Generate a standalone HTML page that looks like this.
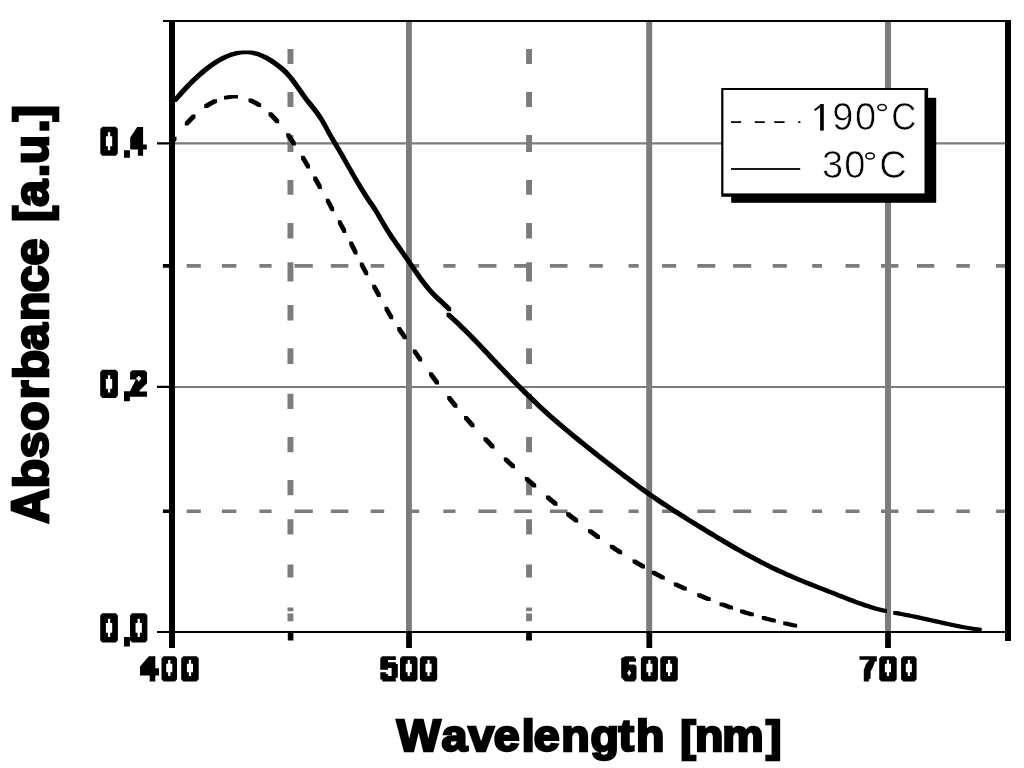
<!DOCTYPE html>
<html><head><meta charset="utf-8">
<style>
html,body{margin:0;padding:0;background:#fff;}
body{width:1024px;height:768px;overflow:hidden;position:relative;}
svg{position:absolute;left:0;top:0;}
text{font-family:"Liberation Sans",sans-serif;}
svg{will-change:transform;}
</style></head><body>
<svg width="1024" height="768" viewBox="0 0 1024 768">
<rect width="1024" height="768" fill="#fff"/>
<path fill="#7c7c7c" d="M175,142.3h830v2.3h-830zM175,385.9h830v2h-830z"/>
<path fill="#7c7c7c" d="M186.7,264.1h14.1v3.7h-14.1zM221.9,264.1h14.5v3.7h-14.5zM259.4,264.1h12.2v3.7h-12.2zM294.5,264.1h18.3v3.7h-18.3zM330.8,264.1h17.6v3.7h-17.6zM370.7,264.1h13.5v3.7h-13.5zM406.0,264.1h13.2v3.7h-13.2zM443.3,264.1h12.2v3.7h-12.2zM478.4,264.1h18.1v3.7h-18.1zM514.2,264.1h17.7v3.7h-17.7zM549.9,264.1h17.6v3.7h-17.6zM589.3,264.1h13.5v3.7h-13.5zM628.6,264.1h10.1v3.7h-10.1zM662.1,264.1h14.1v3.7h-14.1zM697.3,264.1h18.0v3.7h-18.0zM733.1,264.1h18.1v3.7h-18.1zM772.7,264.1h14.1v3.7h-14.1zM812.2,264.1h9.9v3.7h-9.9zM845.5,264.1h14.0v3.7h-14.0zM881.0,264.1h17.4v3.7h-17.4zM916.9,264.1h17.4v3.7h-17.4zM956.3,264.1h13.5v3.7h-13.5zM995.9,264.1h9.1v3.7h-9.1zM186.7,509.4h14.1v3.6h-14.1zM221.9,509.4h14.5v3.6h-14.5zM259.4,509.4h12.2v3.6h-12.2zM294.5,509.4h18.3v3.6h-18.3zM330.8,509.4h17.6v3.6h-17.6zM370.7,509.4h13.5v3.6h-13.5zM406.0,509.4h13.2v3.6h-13.2zM443.3,509.4h12.2v3.6h-12.2zM478.4,509.4h18.1v3.6h-18.1zM514.2,509.4h17.7v3.6h-17.7zM549.9,509.4h17.6v3.6h-17.6zM589.3,509.4h13.5v3.6h-13.5zM628.6,509.4h10.1v3.6h-10.1zM662.1,509.4h14.1v3.6h-14.1zM697.3,509.4h18.0v3.6h-18.0zM733.1,509.4h18.1v3.6h-18.1zM772.7,509.4h14.1v3.6h-14.1zM812.2,509.4h9.9v3.6h-9.9zM845.5,509.4h14.0v3.6h-14.0zM881.0,509.4h17.4v3.6h-17.4zM916.9,509.4h17.4v3.6h-17.4zM956.3,509.4h13.5v3.6h-13.5zM995.9,509.4h9.1v3.6h-9.1z"/>
<path fill="#7c7c7c" d="M287.5,48.9h5.9v15.2h-5.9zM287.5,91.9h5.9v15.1h-5.9zM287.5,135.0h5.9v16.9h-5.9zM287.5,180.1h5.9v14.6h-5.9zM287.5,223.0h5.9v15.5h-5.9zM287.5,262.3h5.9v19.1h-5.9zM287.5,305.1h5.9v15.5h-5.9zM287.5,348.3h5.9v15.7h-5.9zM287.5,393.8h5.9v15.1h-5.9zM287.5,437.0h5.9v15.2h-5.9zM287.5,480.0h5.9v15.3h-5.9zM287.5,519.3h5.9v15.1h-5.9zM287.5,564.4h5.9v13.2h-5.9zM287.5,607.5h5.9v3.8h-5.9zM287.5,613.4h5.9v7.9h-5.9zM526.1,48.9h5.9v15.2h-5.9zM526.1,91.9h5.9v15.1h-5.9zM526.1,135.0h5.9v16.9h-5.9zM526.1,180.1h5.9v14.6h-5.9zM526.1,223.0h5.9v15.5h-5.9zM526.1,262.3h5.9v19.1h-5.9zM526.1,305.1h5.9v15.5h-5.9zM526.1,348.3h5.9v15.7h-5.9zM526.1,393.8h5.9v15.1h-5.9zM526.1,437.0h5.9v15.2h-5.9zM526.1,480.0h5.9v15.3h-5.9zM526.1,519.3h5.9v15.1h-5.9zM526.1,564.4h5.9v13.2h-5.9zM526.1,607.5h5.9v3.8h-5.9zM526.1,613.4h5.9v7.9h-5.9z"/>
<path fill="#7c7c7c" d="M406,22h5.9v609h-5.9zM646.2,22h6v609h-6zM885,22h6v609h-6z"/>
<path fill="#000" d="M173.2,98.3L176.2,94.9L179.8,94.9L179.8,98.5L176.8,101.9L173.2,101.9ZM176.2,94.9L179.2,91.5L182.8,91.5L182.8,95.2L179.8,98.5L176.2,98.5ZM179.2,91.5L182.2,88.3L185.8,88.3L185.8,91.9L182.8,95.2L179.2,95.2ZM182.2,88.3L185.2,85.1L188.8,85.1L188.8,88.7L185.8,91.9L182.2,91.9ZM185.2,85.1L188.2,82.0L191.8,82.0L191.8,85.6L188.8,88.7L185.2,88.7ZM188.2,82.0L191.2,79.0L194.8,79.0L194.8,82.6L191.8,85.6L188.2,85.6ZM191.2,79.0L194.2,76.2L197.8,76.2L197.8,79.8L194.8,82.6L191.2,82.6ZM194.2,76.2L197.2,73.4L200.8,73.4L200.8,77.0L197.8,79.8L194.2,79.8ZM197.2,73.4L200.2,70.8L203.8,70.8L203.8,74.4L200.8,77.0L197.2,77.0ZM200.2,70.8L203.2,68.3L206.8,68.3L206.8,71.9L203.8,74.4L200.2,74.4ZM203.2,68.3L206.2,65.9L209.8,65.9L209.8,69.5L206.8,71.9L203.2,71.9ZM206.2,65.9L209.2,63.7L212.8,63.7L212.8,67.3L209.8,69.5L206.2,69.5ZM209.2,63.7L212.2,61.6L215.8,61.6L215.8,65.2L212.8,67.3L209.2,67.3ZM212.2,61.6L215.2,59.7L218.8,59.7L218.8,63.3L215.8,65.2L212.2,65.2ZM215.2,59.7L218.2,57.9L221.8,57.9L221.8,61.5L218.8,63.3L215.2,63.3ZM218.2,57.9L221.2,56.3L224.8,56.3L224.8,59.9L221.8,61.5L218.2,61.5ZM221.2,56.3L224.2,54.9L227.8,54.9L227.8,58.5L224.8,59.9L221.2,59.9ZM224.2,54.9L227.2,53.7L230.8,53.7L230.8,57.3L227.8,58.5L224.2,58.5ZM227.2,53.7L230.2,52.6L233.8,52.6L233.8,56.2L230.8,57.3L227.2,57.3ZM230.2,52.6L233.2,51.8L236.8,51.8L236.8,55.4L233.8,56.2L230.2,56.2ZM233.2,51.8L236.2,51.1L239.8,51.1L239.8,54.7L236.8,55.4L233.2,55.4ZM236.2,51.1L239.2,50.7L242.8,50.7L242.8,54.3L239.8,54.7L236.2,54.7ZM239.2,50.7L242.2,50.4L245.8,50.4L245.8,54.0L242.8,54.3L239.2,54.3ZM242.2,50.4L245.2,50.4L248.8,50.4L248.8,54.0L245.8,54.0L242.2,54.0ZM245.2,50.4L248.8,50.4L251.8,50.6L251.8,54.2L248.2,54.2L245.2,54.0ZM248.2,50.6L251.8,50.6L254.8,51.1L254.8,54.7L251.2,54.7L248.2,54.2ZM251.2,51.1L254.8,51.1L257.8,51.8L257.8,55.4L254.2,55.4L251.2,54.7ZM254.2,51.8L257.8,51.8L260.8,52.7L260.8,56.3L257.2,56.3L254.2,55.4ZM257.2,52.7L260.8,52.7L263.8,53.9L263.8,57.5L260.2,57.5L257.2,56.3ZM260.2,53.9L263.8,53.9L266.8,55.3L266.8,58.9L263.2,58.9L260.2,57.5ZM263.2,55.3L266.8,55.3L269.8,56.9L269.8,60.5L266.2,60.5L263.2,58.9ZM266.2,56.9L269.8,56.9L272.8,58.8L272.8,62.4L269.2,62.4L266.2,60.5ZM269.2,58.8L272.8,58.8L275.8,60.8L275.8,64.4L272.2,64.4L269.2,62.4ZM272.2,60.8L275.8,60.8L278.8,63.0L278.8,66.6L275.2,66.6L272.2,64.4ZM275.2,63.0L278.8,63.0L281.8,65.3L281.8,68.9L278.2,68.9L275.2,66.6ZM278.2,65.3L281.8,65.3L284.8,67.8L284.8,71.4L281.2,71.4L278.2,68.9ZM281.2,67.8L284.8,67.8L287.8,70.6L287.8,74.2L284.2,74.2L281.2,71.4ZM284.2,70.6L287.8,70.6L290.8,73.9L290.8,77.5L287.2,77.5L284.2,74.2ZM287.2,73.9L290.8,73.9L293.8,77.6L293.8,81.2L290.2,81.2L287.2,77.5ZM290.2,77.6L293.8,77.6L296.8,81.6L296.8,85.2L293.2,85.2L290.2,81.2ZM293.2,81.6L296.8,81.6L299.8,85.8L299.8,89.5L296.2,89.5L293.2,85.2ZM296.2,85.8L299.8,85.8L302.8,90.1L302.8,93.7L299.2,93.7L296.2,89.5ZM299.2,90.1L302.8,90.1L305.8,94.3L305.8,98.0L302.2,98.0L299.2,93.7ZM302.2,94.3L305.8,94.3L308.8,98.4L308.8,102.0L305.2,102.0L302.2,98.0ZM305.2,98.4L308.8,98.4L311.8,102.1L311.8,105.7L308.2,105.7L305.2,102.0ZM308.2,102.1L311.8,102.1L314.8,105.8L314.8,109.4L311.2,109.4L308.2,105.7ZM311.2,105.8L314.8,105.8L317.8,109.6L317.8,113.2L314.2,113.2L311.2,109.4ZM314.2,109.6L317.8,109.6L320.8,113.8L320.8,117.4L317.2,117.4L314.2,113.2ZM317.2,113.8L320.8,113.8L323.8,118.5L323.8,122.0L320.2,122.0L317.2,117.4ZM320.2,118.5L323.8,118.5L326.8,123.8L326.8,127.3L323.2,127.3L320.2,122.0ZM323.2,123.8L326.8,123.8L329.8,129.3L329.8,132.9L326.2,132.9L323.2,127.3ZM326.2,129.3L329.8,129.3L332.8,134.7L332.8,138.3L329.2,138.3L326.2,132.9ZM329.2,134.7L332.8,134.7L335.8,139.8L335.8,143.4L332.2,143.4L329.2,138.3ZM332.2,139.8L335.8,139.8L338.8,144.8L338.8,148.4L335.2,148.4L332.2,143.4ZM335.2,144.8L338.8,144.8L341.8,149.9L341.8,153.5L338.2,153.5L335.2,148.4ZM338.2,149.9L341.8,149.9L344.8,155.1L344.8,158.7L341.2,158.7L338.2,153.5ZM341.2,155.1L344.8,155.1L347.8,160.4L347.8,164.0L344.2,164.0L341.2,158.7ZM344.2,160.4L347.8,160.4L350.8,165.7L350.8,169.3L347.2,169.3L344.2,164.0ZM347.2,165.7L350.8,165.7L353.8,171.0L353.8,174.6L350.2,174.6L347.2,169.3ZM350.2,171.0L353.8,171.0L356.8,176.2L356.8,179.8L353.2,179.8L350.2,174.6ZM353.2,176.2L356.8,176.2L359.8,181.3L359.8,184.9L356.2,184.9L353.2,179.8ZM356.2,181.3L359.8,181.3L362.8,186.3L362.8,189.9L359.2,189.9L356.2,184.9ZM359.2,186.3L362.8,186.3L365.8,191.1L365.8,194.7L362.2,194.7L359.2,189.9ZM362.2,191.1L365.8,191.1L368.8,195.8L368.8,199.4L365.2,199.4L362.2,194.7ZM365.2,195.8L368.8,195.8L371.8,200.3L371.8,203.9L368.2,203.9L365.2,199.4ZM368.2,200.3L371.8,200.3L374.8,204.6L374.8,208.2L371.2,208.2L368.2,203.9ZM371.2,204.6L374.8,204.6L377.8,209.2L377.8,212.8L374.2,212.8L371.2,208.2ZM374.2,209.2L377.8,209.2L380.8,214.3L380.8,217.9L377.2,217.9L374.2,212.8ZM377.2,214.3L380.8,214.3L383.8,219.5L383.8,223.1L380.2,223.1L377.2,217.9ZM380.2,219.5L383.8,219.5L386.8,224.6L386.8,228.2L383.2,228.2L380.2,223.1ZM383.2,224.6L386.8,224.6L389.8,229.5L389.8,233.1L386.2,233.1L383.2,228.2ZM386.2,229.5L389.8,229.5L392.8,234.1L392.8,237.7L389.2,237.7L386.2,233.1ZM389.2,234.1L392.8,234.1L395.8,238.5L395.8,242.1L392.2,242.1L389.2,237.7ZM392.2,238.5L395.8,238.5L398.8,242.8L398.8,246.4L395.2,246.4L392.2,242.1ZM395.2,242.8L398.8,242.8L401.8,247.1L401.8,250.7L398.2,250.7L395.2,246.4ZM398.2,247.1L401.8,247.1L404.8,251.4L404.8,255.0L401.2,255.0L398.2,250.7ZM401.2,251.4L404.8,251.4L407.8,255.7L407.8,259.3L404.2,259.3L401.2,255.0ZM404.2,255.7L407.8,255.7L410.8,260.1L410.8,263.6L407.2,263.6L404.2,259.3ZM407.2,260.1L410.8,260.1L413.8,264.4L413.8,268.1L410.2,268.1L407.2,263.6ZM410.2,264.4L413.8,264.4L416.8,268.8L416.8,272.4L413.2,272.4L410.2,268.1ZM413.2,268.8L416.8,268.8L419.8,273.1L419.8,276.7L416.2,276.7L413.2,272.4ZM416.2,273.1L419.8,273.1L422.8,277.3L422.8,280.9L419.2,280.9L416.2,276.7ZM419.2,277.3L422.8,277.3L425.8,281.3L425.8,284.9L422.2,284.9L419.2,280.9ZM422.2,281.3L425.8,281.3L428.8,285.1L428.8,288.7L425.2,288.7L422.2,284.9ZM425.2,285.1L428.8,285.1L431.8,288.7L431.8,292.3L428.2,292.3L425.2,288.7ZM428.2,288.7L431.8,288.7L434.8,292.0L434.8,295.6L431.2,295.6L428.2,292.3ZM431.2,292.0L434.8,292.0L437.8,295.0L437.8,298.6L434.2,298.6L431.2,295.6ZM434.2,295.0L437.8,295.0L440.8,297.8L440.8,301.4L437.2,301.4L434.2,298.6ZM437.2,297.8L440.8,297.8L443.8,300.5L443.8,304.1L440.2,304.1L437.2,301.4ZM440.2,300.5L443.8,300.5L446.8,303.3L446.8,306.9L443.2,306.9L440.2,304.1ZM443.2,303.3L446.8,303.3L449.8,306.2L449.8,309.8L446.2,309.8L443.2,306.9ZM446.2,306.2L449.8,306.2L451.2,307.6L451.2,311.2L447.6,311.2L446.2,309.8ZM446.5,312.8L450.1,312.8L453.1,315.5L453.1,319.1L449.5,319.1L446.5,316.4ZM449.5,315.5L453.1,315.5L456.1,318.2L456.1,321.8L452.5,321.8L449.5,319.1ZM452.5,318.2L456.1,318.2L459.1,321.0L459.1,324.6L455.5,324.6L452.5,321.8ZM455.5,321.0L459.1,321.0L462.1,323.9L462.1,327.4L458.5,327.4L455.5,324.6ZM458.5,323.9L462.1,323.9L465.1,326.8L465.1,330.4L461.5,330.4L458.5,327.4ZM461.5,326.8L465.1,326.8L468.1,329.7L468.1,333.3L464.5,333.3L461.5,330.4ZM464.5,329.7L468.1,329.7L471.1,332.7L471.1,336.3L467.5,336.3L464.5,333.3ZM467.5,332.7L471.1,332.7L474.1,335.8L474.1,339.4L470.5,339.4L467.5,336.3ZM470.5,335.8L474.1,335.8L477.1,338.9L477.1,342.5L473.5,342.5L470.5,339.4ZM473.5,338.9L477.1,338.9L480.1,342.0L480.1,345.6L476.5,345.6L473.5,342.5ZM476.5,342.0L480.1,342.0L483.1,345.2L483.1,348.8L479.5,348.8L476.5,345.6ZM479.5,345.2L483.1,345.2L486.1,348.3L486.1,351.9L482.5,351.9L479.5,348.8ZM482.5,348.3L486.1,348.3L489.1,351.5L489.1,355.1L485.5,355.1L482.5,351.9ZM485.5,351.5L489.1,351.5L492.1,354.8L492.1,358.4L488.5,358.4L485.5,355.1ZM488.5,354.8L492.1,354.8L495.1,357.9L495.1,361.6L491.5,361.6L488.5,358.4ZM491.5,357.9L495.1,357.9L498.1,361.1L498.1,364.8L494.5,364.8L491.5,361.6ZM494.5,361.1L498.1,361.1L501.1,364.3L501.1,367.9L497.5,367.9L494.5,364.8ZM497.5,364.3L501.1,364.3L504.1,367.5L504.1,371.1L500.5,371.1L497.5,367.9ZM500.5,367.5L504.1,367.5L507.1,370.6L507.1,374.2L503.5,374.2L500.5,371.1ZM503.5,370.6L507.1,370.6L510.1,373.7L510.1,377.3L506.5,377.3L503.5,374.2ZM506.5,373.7L510.1,373.7L513.1,376.8L513.1,380.4L509.5,380.4L506.5,377.3ZM509.5,376.8L513.1,376.8L516.1,379.8L516.1,383.4L512.5,383.4L509.5,380.4ZM512.5,379.8L516.1,379.8L519.1,382.9L519.1,386.4L515.5,386.4L512.5,383.4ZM515.5,382.9L519.1,382.9L522.1,385.9L522.1,389.4L518.5,389.4L515.5,386.4ZM518.5,385.9L522.1,385.9L525.1,388.8L525.1,392.4L521.5,392.4L518.5,389.4ZM521.5,388.8L525.1,388.8L528.1,391.8L528.1,395.4L524.5,395.4L521.5,392.4ZM524.5,391.8L528.1,391.8L531.1,394.7L531.1,398.3L527.5,398.3L524.5,395.4ZM527.5,394.7L531.1,394.7L534.1,397.6L534.1,401.2L530.5,401.2L527.5,398.3ZM530.5,397.6L534.1,397.6L537.1,400.5L537.1,404.1L533.5,404.1L530.5,401.2ZM533.5,400.5L537.1,400.5L540.1,403.4L540.1,407.0L536.5,407.0L533.5,404.1ZM536.5,403.4L540.1,403.4L543.1,406.2L543.1,409.8L539.5,409.8L536.5,407.0ZM539.5,406.2L543.1,406.2L546.1,409.0L546.1,412.6L542.5,412.6L539.5,409.8ZM542.5,409.0L546.1,409.0L549.1,411.7L549.1,415.3L545.5,415.3L542.5,412.6ZM545.5,411.7L549.1,411.7L552.1,414.4L552.1,418.0L548.5,418.0L545.5,415.3ZM548.5,414.4L552.1,414.4L555.1,417.0L555.1,420.6L551.5,420.6L548.5,418.0ZM551.5,417.0L555.1,417.0L558.1,419.6L558.1,423.2L554.5,423.2L551.5,420.6ZM554.5,419.6L558.1,419.6L561.1,422.2L561.1,425.8L557.5,425.8L554.5,423.2ZM557.5,422.2L561.1,422.2L564.1,424.7L564.1,428.3L560.5,428.3L557.5,425.8ZM560.5,424.7L564.1,424.7L567.1,427.2L567.1,430.8L563.5,430.8L560.5,428.3ZM563.5,427.2L567.1,427.2L570.1,429.7L570.1,433.3L566.5,433.3L563.5,430.8ZM566.5,429.7L570.1,429.7L573.1,432.2L573.1,435.8L569.5,435.8L566.5,433.3ZM569.5,432.2L573.1,432.2L576.1,434.7L576.1,438.3L572.5,438.3L569.5,435.8ZM572.5,434.7L576.1,434.7L579.1,437.1L579.1,440.7L575.5,440.7L572.5,438.3ZM575.5,437.1L579.1,437.1L582.1,439.6L582.1,443.2L578.5,443.2L575.5,440.7ZM578.5,439.6L582.1,439.6L585.1,442.0L585.1,445.6L581.5,445.6L578.5,443.2ZM581.5,442.0L585.1,442.0L588.1,444.4L588.1,448.0L584.5,448.0L581.5,445.6ZM584.5,444.4L588.1,444.4L591.1,446.8L591.1,450.4L587.5,450.4L584.5,448.0ZM587.5,446.8L591.1,446.8L594.1,449.2L594.1,452.8L590.5,452.8L587.5,450.4ZM590.5,449.2L594.1,449.2L597.1,451.6L597.1,455.2L593.5,455.2L590.5,452.8ZM593.5,451.6L597.1,451.6L600.1,453.9L600.1,457.6L596.5,457.6L593.5,455.2ZM596.5,453.9L600.1,453.9L603.1,456.3L603.1,459.9L599.5,459.9L596.5,457.6ZM599.5,456.3L603.1,456.3L606.1,458.7L606.1,462.3L602.5,462.3L599.5,459.9ZM602.5,458.7L606.1,458.7L609.1,461.0L609.1,464.6L605.5,464.6L602.5,462.3ZM605.5,461.0L609.1,461.0L612.1,463.3L612.1,466.9L608.5,466.9L605.5,464.6ZM608.5,463.3L612.1,463.3L615.1,465.6L615.1,469.2L611.5,469.2L608.5,466.9ZM611.5,465.6L615.1,465.6L618.1,467.9L618.1,471.5L614.5,471.5L611.5,469.2ZM614.5,467.9L618.1,467.9L621.1,470.2L621.1,473.8L617.5,473.8L614.5,471.5ZM617.5,470.2L621.1,470.2L624.1,472.5L624.1,476.1L620.5,476.1L617.5,473.8ZM620.5,472.5L624.1,472.5L627.1,474.8L627.1,478.4L623.5,478.4L620.5,476.1ZM623.5,474.8L627.1,474.8L630.1,477.0L630.1,480.6L626.5,480.6L623.5,478.4ZM626.5,477.0L630.1,477.0L633.1,479.2L633.1,482.9L629.5,482.9L626.5,480.6ZM629.5,479.2L633.1,479.2L636.1,481.5L636.1,485.1L632.5,485.1L629.5,482.9ZM632.5,481.5L636.1,481.5L639.1,483.7L639.1,487.3L635.5,487.3L632.5,485.1ZM635.5,483.7L639.1,483.7L642.1,485.9L642.1,489.5L638.5,489.5L635.5,487.3ZM638.5,485.9L642.1,485.9L645.1,488.1L645.1,491.7L641.5,491.7L638.5,489.5ZM641.5,488.1L645.1,488.1L648.1,490.2L648.1,493.8L644.5,493.8L641.5,491.7ZM644.5,490.2L648.1,490.2L651.1,492.4L651.1,496.0L647.5,496.0L644.5,493.8ZM647.5,492.4L651.1,492.4L654.1,494.5L654.1,498.1L650.5,498.1L647.5,496.0ZM650.5,494.5L654.1,494.5L657.1,496.5L657.1,500.1L653.5,500.1L650.5,498.1ZM653.5,496.5L657.1,496.5L660.1,498.6L660.1,502.2L656.5,502.2L653.5,500.1ZM656.5,498.6L660.1,498.6L663.1,500.6L663.1,504.2L659.5,504.2L656.5,502.2ZM659.5,500.6L663.1,500.6L666.1,502.6L666.1,506.2L662.5,506.2L659.5,504.2ZM662.5,502.6L666.1,502.6L669.1,504.5L669.1,508.1L665.5,508.1L662.5,506.2ZM665.5,504.5L669.1,504.5L672.1,506.5L672.1,510.1L668.5,510.1L665.5,508.1ZM668.5,506.5L672.1,506.5L675.1,508.4L675.1,512.0L671.5,512.0L668.5,510.1ZM671.5,508.4L675.1,508.4L678.1,510.3L678.1,513.9L674.5,513.9L671.5,512.0ZM674.5,510.3L678.1,510.3L681.1,512.2L681.1,515.8L677.5,515.8L674.5,513.9ZM677.5,512.2L681.1,512.2L684.1,514.1L684.1,517.7L680.5,517.7L677.5,515.8ZM680.5,514.1L684.1,514.1L687.1,516.0L687.1,519.6L683.5,519.6L680.5,517.7ZM683.5,516.0L687.1,516.0L690.1,517.9L690.1,521.5L686.5,521.5L683.5,519.6ZM686.5,517.9L690.1,517.9L693.1,519.7L693.1,523.3L689.5,523.3L686.5,521.5ZM689.5,519.7L693.1,519.7L696.1,521.6L696.1,525.2L692.5,525.2L689.5,523.3ZM692.5,521.6L696.1,521.6L699.1,523.5L699.1,527.0L695.5,527.0L692.5,525.2ZM695.5,523.5L699.1,523.5L702.1,525.3L702.1,528.9L698.5,528.9L695.5,527.0ZM698.5,525.3L702.1,525.3L705.1,527.1L705.1,530.8L701.5,530.8L698.5,528.9ZM701.5,527.1L705.1,527.1L708.1,529.0L708.1,532.6L704.5,532.6L701.5,530.8ZM704.5,529.0L708.1,529.0L711.1,530.8L711.1,534.4L707.5,534.4L704.5,532.6ZM707.5,530.8L711.1,530.8L714.1,532.6L714.1,536.2L710.5,536.2L707.5,534.4ZM710.5,532.6L714.1,532.6L717.1,534.5L717.1,538.1L713.5,538.1L710.5,536.2ZM713.5,534.5L717.1,534.5L720.1,536.3L720.1,539.9L716.5,539.9L713.5,538.1ZM716.5,536.3L720.1,536.3L723.1,538.0L723.1,541.6L719.5,541.6L716.5,539.9ZM719.5,538.0L723.1,538.0L726.1,539.8L726.1,543.4L722.5,543.4L719.5,541.6ZM722.5,539.8L726.1,539.8L729.1,541.6L729.1,545.2L725.5,545.2L722.5,543.4ZM725.5,541.6L729.1,541.6L732.1,543.3L732.1,546.9L728.5,546.9L725.5,545.2ZM728.5,543.3L732.1,543.3L735.1,545.1L735.1,548.7L731.5,548.7L728.5,546.9ZM731.5,545.1L735.1,545.1L738.1,546.8L738.1,550.4L734.5,550.4L731.5,548.7ZM734.5,546.8L738.1,546.8L741.1,548.5L741.1,552.1L737.5,552.1L734.5,550.4ZM737.5,548.5L741.1,548.5L744.1,550.2L744.1,553.8L740.5,553.8L737.5,552.1ZM740.5,550.2L744.1,550.2L747.1,551.9L747.1,555.5L743.5,555.5L740.5,553.8ZM743.5,551.9L747.1,551.9L750.1,553.5L750.1,557.1L746.5,557.1L743.5,555.5ZM746.5,553.5L750.1,553.5L753.1,555.1L753.1,558.7L749.5,558.7L746.5,557.1ZM749.5,555.1L753.1,555.1L756.1,556.7L756.1,560.3L752.5,560.3L749.5,558.7ZM752.5,556.7L756.1,556.7L759.1,558.3L759.1,561.9L755.5,561.9L752.5,560.3ZM755.5,558.3L759.1,558.3L762.1,559.9L762.1,563.5L758.5,563.5L755.5,561.9ZM758.5,559.9L762.1,559.9L765.1,561.4L765.1,565.0L761.5,565.0L758.5,563.5ZM761.5,561.4L765.1,561.4L768.1,562.9L768.1,566.5L764.5,566.5L761.5,565.0ZM764.5,562.9L768.1,562.9L771.1,564.4L771.1,568.0L767.5,568.0L764.5,566.5ZM767.5,564.4L771.1,564.4L774.1,565.9L774.1,569.5L770.5,569.5L767.5,568.0ZM770.5,565.9L774.1,565.9L777.1,567.3L777.1,570.9L773.5,570.9L770.5,569.5ZM773.5,567.3L777.1,567.3L780.1,568.8L780.1,572.4L776.5,572.4L773.5,570.9ZM776.5,568.8L780.1,568.8L783.1,570.1L783.1,573.7L779.5,573.7L776.5,572.4ZM779.5,570.1L783.1,570.1L786.1,571.5L786.1,575.1L782.5,575.1L779.5,573.7ZM782.5,571.5L786.1,571.5L789.1,572.8L789.1,576.4L785.5,576.4L782.5,575.1ZM785.5,572.8L789.1,572.8L792.1,574.1L792.1,577.7L788.5,577.7L785.5,576.4ZM788.5,574.1L792.1,574.1L795.1,575.4L795.1,579.0L791.5,579.0L788.5,577.7ZM791.5,575.4L795.1,575.4L798.1,576.7L798.1,580.3L794.5,580.3L791.5,579.0ZM794.5,576.7L798.1,576.7L801.1,578.0L801.1,581.5L797.5,581.5L794.5,580.3ZM797.5,578.0L801.1,578.0L804.1,579.2L804.1,582.8L800.5,582.8L797.5,581.5ZM800.5,579.2L804.1,579.2L807.1,580.4L807.1,584.0L803.5,584.0L800.5,582.8ZM803.5,580.4L807.1,580.4L810.1,581.6L810.1,585.2L806.5,585.2L803.5,584.0ZM806.5,581.6L810.1,581.6L813.1,582.8L813.1,586.4L809.5,586.4L806.5,585.2ZM809.5,582.8L813.1,582.8L816.1,584.0L816.1,587.6L812.5,587.6L809.5,586.4ZM812.5,584.0L816.1,584.0L819.1,585.2L819.1,588.8L815.5,588.8L812.5,587.6ZM815.5,585.2L819.1,585.2L822.1,586.4L822.1,590.0L818.5,590.0L815.5,588.8ZM818.5,586.4L822.1,586.4L825.1,587.5L825.1,591.1L821.5,591.1L818.5,590.0ZM821.5,587.5L825.1,587.5L828.1,588.7L828.1,592.3L824.5,592.3L821.5,591.1ZM824.5,588.7L828.1,588.7L831.1,589.9L831.1,593.5L827.5,593.5L824.5,592.3ZM827.5,589.9L831.1,589.9L834.1,591.0L834.1,594.6L830.5,594.6L827.5,593.5ZM830.5,591.0L834.1,591.0L837.1,592.2L837.1,595.8L833.5,595.8L830.5,594.6ZM833.5,592.2L837.1,592.2L840.1,593.4L840.1,597.0L836.5,597.0L833.5,595.8ZM836.5,593.4L840.1,593.4L843.1,594.6L843.1,598.2L839.5,598.2L836.5,597.0ZM839.5,594.6L843.1,594.6L846.1,595.7L846.1,599.3L842.5,599.3L839.5,598.2ZM842.5,595.7L846.1,595.7L849.1,596.9L849.1,600.5L845.5,600.5L842.5,599.3ZM845.5,596.9L849.1,596.9L852.1,598.1L852.1,601.7L848.5,601.7L845.5,600.5ZM848.5,598.1L852.1,598.1L855.1,599.2L855.1,602.8L851.5,602.8L848.5,601.7ZM851.5,599.2L855.1,599.2L858.1,600.4L858.1,604.0L854.5,604.0L851.5,602.8ZM854.5,600.4L858.1,600.4L861.1,601.5L861.1,605.1L857.5,605.1L854.5,604.0ZM857.5,601.5L861.1,601.5L864.1,602.5L864.1,606.1L860.5,606.1L857.5,605.1ZM860.5,602.5L864.1,602.5L867.1,603.6L867.1,607.2L863.5,607.2L860.5,606.1ZM863.5,603.6L867.1,603.6L870.1,604.5L870.1,608.1L866.5,608.1L863.5,607.2ZM866.5,604.5L870.1,604.5L873.1,605.5L873.1,609.1L869.5,609.1L866.5,608.1ZM869.5,605.5L873.1,605.5L876.1,606.4L876.1,610.0L872.5,610.0L869.5,609.1ZM872.5,606.4L876.1,606.4L879.1,607.2L879.1,610.8L875.5,610.8L872.5,610.0ZM875.5,607.2L879.1,607.2L882.1,608.0L882.1,611.6L878.5,611.6L875.5,610.8ZM878.5,608.0L882.1,608.0L885.1,608.7L885.1,612.3L881.5,612.3L878.5,611.6ZM881.5,608.7L885.1,608.7L887.0,609.1L887.0,612.7L883.4,612.7L881.5,612.3ZM893.2,611.1L896.8,611.1L899.8,611.6L899.8,615.2L896.2,615.2L893.2,614.7ZM896.2,611.6L899.8,611.6L902.8,612.2L902.8,615.8L899.2,615.8L896.2,615.2ZM899.2,612.2L902.8,612.2L905.8,612.7L905.8,616.3L902.2,616.3L899.2,615.8ZM902.2,612.7L905.8,612.7L908.8,613.3L908.8,616.9L905.2,616.9L902.2,616.3ZM905.2,613.3L908.8,613.3L911.8,613.9L911.8,617.5L908.2,617.5L905.2,616.9ZM908.2,613.9L911.8,613.9L914.8,614.5L914.8,618.1L911.2,618.1L908.2,617.5ZM911.2,614.5L914.8,614.5L917.8,615.1L917.8,618.7L914.2,618.7L911.2,618.1ZM914.2,615.1L917.8,615.1L920.8,615.8L920.8,619.4L917.2,619.4L914.2,618.7ZM917.2,615.8L920.8,615.8L923.8,616.4L923.8,620.0L920.2,620.0L917.2,619.4ZM920.2,616.4L923.8,616.4L926.8,617.1L926.8,620.7L923.2,620.7L920.2,620.0ZM923.2,617.1L926.8,617.1L929.8,617.8L929.8,621.4L926.2,621.4L923.2,620.7ZM926.2,617.8L929.8,617.8L932.8,618.4L932.8,622.0L929.2,622.0L926.2,621.4ZM929.2,618.4L932.8,618.4L935.8,619.1L935.8,622.7L932.2,622.7L929.2,622.0ZM932.2,619.1L935.8,619.1L938.8,619.8L938.8,623.4L935.2,623.4L932.2,622.7ZM935.2,619.8L938.8,619.8L941.8,620.5L941.8,624.1L938.2,624.1L935.2,623.4ZM938.2,620.5L941.8,620.5L944.8,621.1L944.8,624.7L941.2,624.7L938.2,624.1ZM941.2,621.1L944.8,621.1L947.8,621.8L947.8,625.4L944.2,625.4L941.2,624.7ZM944.2,621.8L947.8,621.8L950.8,622.5L950.8,626.0L947.2,626.0L944.2,625.4ZM947.2,622.5L950.8,622.5L953.8,623.1L953.8,626.7L950.2,626.7L947.2,626.0ZM950.2,623.1L953.8,623.1L956.8,623.7L956.8,627.3L953.2,627.3L950.2,626.7ZM953.2,623.7L956.8,623.7L959.8,624.3L959.8,627.9L956.2,627.9L953.2,627.3ZM956.2,624.3L959.8,624.3L962.8,624.9L962.8,628.5L959.2,628.5L956.2,627.9ZM959.2,624.9L962.8,624.9L965.8,625.4L965.8,629.0L962.2,629.0L959.2,628.5ZM962.2,625.4L965.8,625.4L968.8,625.9L968.8,629.5L965.2,629.5L962.2,629.0ZM965.2,625.9L968.8,625.9L971.8,626.4L971.8,630.0L968.2,630.0L965.2,629.5ZM968.2,626.4L971.8,626.4L974.8,626.9L974.8,630.5L971.2,630.5L968.2,630.0ZM971.2,626.9L974.8,626.9L977.8,627.3L977.8,630.9L974.2,630.9L971.2,630.5ZM974.2,627.3L977.8,627.3L980.8,627.7L980.8,631.3L977.2,631.3L974.2,630.9ZM977.2,627.7L980.8,627.7L981.7,627.8L981.7,631.4L978.1,631.4L977.2,631.3Z"/>
<path fill="#000" d="M172.0,138.1L173.0,136.7L176.5,136.7L176.5,140.2L175.5,141.6L172.0,141.6ZM184.8,122.1L186.8,119.9L190.2,119.9L190.2,123.4L188.2,125.6L184.8,125.6ZM186.8,119.9L188.8,117.8L192.2,117.8L192.2,121.3L190.2,123.4L186.8,123.4ZM188.8,117.8L190.8,115.8L194.2,115.8L194.2,119.3L192.2,121.3L188.8,121.3ZM190.8,115.8L192.0,114.6L195.5,114.6L195.5,118.1L194.2,119.3L190.8,119.3ZM204.2,104.6L206.2,103.3L209.8,103.3L209.8,106.8L207.8,108.1L204.2,108.1ZM206.2,103.3L208.2,102.1L211.8,102.1L211.8,105.6L209.8,106.8L206.2,106.8ZM208.2,102.1L210.2,101.0L213.8,101.0L213.8,104.5L211.8,105.6L208.2,105.6ZM210.2,101.0L212.2,99.9L215.8,99.9L215.8,103.4L213.8,104.5L210.2,104.5ZM212.2,99.9L213.5,99.3L217.0,99.3L217.0,102.8L215.8,103.4L212.2,103.4ZM224.0,95.9L226.0,95.5L229.5,95.5L229.5,99.0L227.5,99.4L224.0,99.4ZM226.0,95.5L228.0,95.3L231.5,95.3L231.5,98.8L229.5,99.0L226.0,99.0ZM228.0,95.3L230.0,95.1L233.5,95.1L233.5,98.6L231.5,98.8L228.0,98.8ZM230.0,95.1L232.0,95.1L235.5,95.1L235.5,98.6L233.5,98.6L230.0,98.6ZM232.0,95.1L235.5,95.1L237.5,95.1L237.5,98.6L234.0,98.6L232.0,98.6ZM234.0,95.1L237.5,95.1L238.0,95.1L238.0,98.6L234.5,98.6L234.0,98.6ZM248.5,98.5L252.0,98.5L254.0,99.4L254.0,102.9L250.5,102.9L248.5,102.0ZM250.5,99.4L254.0,99.4L256.0,100.4L256.0,103.9L252.5,103.9L250.5,102.9ZM252.5,100.4L256.0,100.4L258.0,101.5L258.0,105.0L254.5,105.0L252.5,103.9ZM254.5,101.5L258.0,101.5L260.0,102.7L260.0,106.2L256.5,106.2L254.5,105.0ZM256.5,102.7L260.0,102.7L261.2,103.5L261.2,107.0L257.8,107.0L256.5,106.2ZM268.5,112.2L272.0,112.2L274.0,114.2L274.0,117.7L270.5,117.7L268.5,115.7ZM270.5,114.2L274.0,114.2L276.0,116.2L276.0,119.7L272.5,119.7L270.5,117.7ZM272.5,116.2L276.0,116.2L278.0,118.4L278.0,121.9L274.5,121.9L272.5,119.7ZM274.5,118.4L278.0,118.4L279.2,119.8L279.2,123.3L275.8,123.3L274.5,121.9ZM286.2,133.3L289.8,133.3L291.8,136.1L291.8,139.6L288.2,139.6L286.2,136.8ZM288.2,136.1L291.8,136.1L293.8,139.0L293.8,142.5L290.2,142.5L288.2,139.6ZM290.2,139.0L293.8,139.0L295.8,142.0L295.8,145.5L292.2,145.5L290.2,142.5ZM301.0,155.7L304.5,155.7L306.5,159.0L306.5,162.5L303.0,162.5L301.0,159.2ZM303.0,159.0L306.5,159.0L308.5,162.4L308.5,165.9L305.0,165.9L303.0,162.5ZM305.0,162.4L308.5,162.4L310.0,164.9L310.0,168.4L306.5,168.4L305.0,165.9ZM313.2,176.6L316.8,176.6L318.8,180.1L318.8,183.6L315.2,183.6L313.2,180.1ZM315.2,180.1L318.8,180.1L320.8,183.6L320.8,187.1L317.2,187.1L315.2,183.6ZM317.2,183.6L320.8,183.6L321.8,185.4L321.8,188.9L318.2,188.9L317.2,187.1ZM325.8,198.8L329.2,198.8L331.2,202.3L331.2,205.8L327.8,205.8L325.8,202.2ZM327.8,202.3L331.2,202.3L333.2,205.9L333.2,209.4L329.8,209.4L327.8,205.8ZM329.8,205.9L333.2,205.9L334.2,207.7L334.2,211.2L330.8,211.2L329.8,209.4ZM337.8,220.2L341.2,220.2L343.2,223.9L343.2,227.4L339.8,227.4L337.8,223.7ZM339.8,223.9L343.2,223.9L345.2,227.5L345.2,231.0L341.8,231.0L339.8,227.4ZM341.8,227.5L345.2,227.5L346.2,229.4L346.2,232.9L342.8,232.9L341.8,231.0ZM349.2,241.6L352.8,241.6L354.8,245.5L354.8,249.0L351.2,249.0L349.2,245.1ZM351.2,245.5L354.8,245.5L356.8,249.5L356.8,253.0L353.2,253.0L351.2,249.0ZM353.2,249.5L356.8,249.5L357.5,251.0L357.5,254.5L354.0,254.5L353.2,253.0ZM359.8,262.5L363.2,262.5L365.2,266.3L365.2,269.8L361.8,269.8L359.8,266.0ZM361.8,266.3L365.2,266.3L367.2,270.0L367.2,273.5L363.8,273.5L361.8,269.8ZM363.8,270.0L367.2,270.0L368.2,271.8L368.2,275.2L364.8,275.2L363.8,273.5ZM372.2,284.7L375.8,284.7L377.8,288.2L377.8,291.7L374.2,291.7L372.2,288.2ZM374.2,288.2L377.8,288.2L379.8,291.7L379.8,295.2L376.2,295.2L374.2,291.7ZM376.2,291.7L379.8,291.7L380.8,293.5L380.8,297.0L377.2,297.0L376.2,295.2ZM384.5,306.8L388.0,306.8L390.0,310.3L390.0,313.8L386.5,313.8L384.5,310.3ZM386.5,310.3L390.0,310.3L392.0,313.7L392.0,317.2L388.5,317.2L386.5,313.8ZM388.5,313.7L392.0,313.7L393.2,315.7L393.2,319.2L389.8,319.2L388.5,317.2ZM397.2,327.0L400.8,327.0L402.8,329.9L402.8,333.4L399.2,333.4L397.2,330.5ZM399.2,329.9L402.8,329.9L404.8,332.8L404.8,336.3L401.2,336.3L399.2,333.4ZM401.2,332.8L404.8,332.8L406.8,335.7L406.8,339.2L403.2,339.2L401.2,336.3ZM412.8,349.5L416.2,349.5L418.2,352.3L418.2,355.8L414.8,355.8L412.8,353.0ZM414.8,352.3L418.2,352.3L420.2,355.2L420.2,358.7L416.8,358.7L414.8,355.8ZM416.8,355.2L420.2,355.2L422.2,358.0L422.2,361.5L418.8,361.5L416.8,358.7ZM429.0,372.3L432.5,372.3L434.5,375.1L434.5,378.6L431.0,378.6L429.0,375.8ZM431.0,375.1L434.5,375.1L436.5,377.7L436.5,381.2L433.0,381.2L431.0,378.6ZM433.0,377.7L436.5,377.7L438.5,380.4L438.5,383.9L435.0,383.9L433.0,381.2ZM435.0,380.4L438.5,380.4L439.0,381.1L439.0,384.6L435.5,384.6L435.0,383.9ZM447.2,396.1L450.8,396.1L452.8,398.6L452.8,402.1L449.2,402.1L447.2,399.6ZM449.2,398.6L452.8,398.6L454.8,401.0L454.8,404.5L451.2,404.5L449.2,402.1ZM451.2,401.0L454.8,401.0L456.8,403.4L456.8,406.9L453.2,406.9L451.2,404.5ZM453.2,403.4L456.8,403.4L457.5,404.3L457.5,407.8L454.0,407.8L453.2,406.9ZM464.0,416.0L467.5,416.0L469.5,418.3L469.5,421.8L466.0,421.8L464.0,419.5ZM466.0,418.3L469.5,418.3L471.5,420.5L471.5,424.0L468.0,424.0L466.0,421.8ZM468.0,420.5L471.5,420.5L473.5,422.7L473.5,426.2L470.0,426.2L468.0,424.0ZM470.0,422.7L473.5,422.7L474.5,423.8L474.5,427.3L471.0,427.3L470.0,426.2ZM483.5,437.2L487.0,437.2L489.0,439.3L489.0,442.8L485.5,442.8L483.5,440.7ZM485.5,439.3L489.0,439.3L491.0,441.3L491.0,444.8L487.5,444.8L485.5,442.8ZM487.5,441.3L491.0,441.3L493.0,443.4L493.0,446.9L489.5,446.9L487.5,444.8ZM489.5,443.4L493.0,443.4L494.5,444.9L494.5,448.4L491.0,448.4L489.5,446.9ZM503.8,457.4L507.2,457.4L509.2,459.3L509.2,462.8L505.8,462.8L503.8,460.9ZM505.8,459.3L509.2,459.3L511.2,461.2L511.2,464.7L507.8,464.7L505.8,462.8ZM507.8,461.2L511.2,461.2L513.2,463.1L513.2,466.6L509.8,466.6L507.8,464.7ZM509.8,463.1L513.2,463.1L515.0,464.7L515.0,468.2L511.5,468.2L509.8,466.6ZM524.8,476.9L528.2,476.9L530.2,478.7L530.2,482.2L526.8,482.2L524.8,480.4ZM526.8,478.7L530.2,478.7L532.2,480.4L532.2,483.9L528.8,483.9L526.8,482.2ZM528.8,480.4L532.2,480.4L534.2,482.2L534.2,485.7L530.8,485.7L528.8,483.9ZM530.8,482.2L534.2,482.2L536.2,484.0L536.2,487.5L532.8,487.5L530.8,485.7ZM546.0,495.5L549.5,495.5L551.5,497.2L551.5,500.7L548.0,500.7L546.0,499.0ZM548.0,497.2L551.5,497.2L553.5,498.9L553.5,502.4L550.0,502.4L548.0,500.7ZM550.0,498.9L553.5,498.9L555.5,500.6L555.5,504.1L552.0,504.1L550.0,502.4ZM552.0,500.6L555.5,500.6L557.5,502.2L557.5,505.7L554.0,505.7L552.0,504.1ZM566.2,512.3L569.8,512.3L571.8,513.9L571.8,517.4L568.2,517.4L566.2,515.8ZM568.2,513.9L571.8,513.9L573.8,515.5L573.8,519.0L570.2,519.0L568.2,517.4ZM570.2,515.5L573.8,515.5L575.8,517.0L575.8,520.5L572.2,520.5L570.2,519.0ZM572.2,517.0L575.8,517.0L577.8,518.6L577.8,522.1L574.2,522.1L572.2,520.5ZM574.2,518.6L577.8,518.6L578.2,519.0L578.2,522.5L574.8,522.5L574.2,522.1ZM588.0,529.2L591.5,529.2L593.5,530.6L593.5,534.1L590.0,534.1L588.0,532.7ZM590.0,530.6L593.5,530.6L595.5,532.1L595.5,535.6L592.0,535.6L590.0,534.1ZM592.0,532.1L595.5,532.1L597.5,533.6L597.5,537.1L594.0,537.1L592.0,535.6ZM594.0,533.6L597.5,533.6L599.5,535.0L599.5,538.5L596.0,538.5L594.0,537.1ZM596.0,535.0L599.5,535.0L600.0,535.4L600.0,538.9L596.5,538.9L596.0,538.5ZM609.8,544.7L613.2,544.7L615.2,546.1L615.2,549.6L611.8,549.6L609.8,548.2ZM611.8,546.1L615.2,546.1L617.2,547.5L617.2,551.0L613.8,551.0L611.8,549.6ZM613.8,547.5L617.2,547.5L619.2,548.8L619.2,552.3L615.8,552.3L613.8,551.0ZM615.8,548.8L619.2,548.8L621.2,550.1L621.2,553.6L617.8,553.6L615.8,552.3ZM617.8,550.1L621.2,550.1L622.2,550.8L622.2,554.3L618.8,554.3L617.8,553.6ZM632.5,559.5L636.0,559.5L638.0,560.7L638.0,564.2L634.5,564.2L632.5,563.0ZM634.5,560.7L638.0,560.7L640.0,562.0L640.0,565.5L636.5,565.5L634.5,564.2ZM636.5,562.0L640.0,562.0L642.0,563.1L642.0,566.6L638.5,566.6L636.5,565.5ZM638.5,563.1L642.0,563.1L644.0,564.3L644.0,567.8L640.5,567.8L638.5,566.6ZM640.5,564.3L644.0,564.3L645.0,564.9L645.0,568.4L641.5,568.4L640.5,567.8ZM651.8,570.8L655.2,570.8L657.2,571.9L657.2,575.4L653.8,575.4L651.8,574.3ZM653.8,571.9L657.2,571.9L659.2,573.0L659.2,576.5L655.8,576.5L653.8,575.4ZM655.8,573.0L659.2,573.0L661.2,574.1L661.2,577.6L657.8,577.6L655.8,576.5ZM657.8,574.1L661.2,574.1L663.2,575.2L663.2,578.7L659.8,578.7L657.8,577.6ZM659.8,575.2L663.2,575.2L664.8,576.0L664.8,579.5L661.2,579.5L659.8,578.7ZM673.8,582.4L677.2,582.4L679.2,583.4L679.2,586.9L675.8,586.9L673.8,585.9ZM675.8,583.4L679.2,583.4L681.2,584.4L681.2,587.9L677.8,587.9L675.8,586.9ZM677.8,584.4L681.2,584.4L683.2,585.3L683.2,588.8L679.8,588.8L677.8,587.9ZM679.8,585.3L683.2,585.3L685.2,586.3L685.2,589.8L681.8,589.8L679.8,588.8ZM681.8,586.3L685.2,586.3L686.8,587.0L686.8,590.5L683.2,590.5L681.8,589.8ZM697.2,593.3L700.8,593.3L702.8,594.2L702.8,597.7L699.2,597.7L697.2,596.8ZM699.2,594.2L702.8,594.2L704.8,595.0L704.8,598.5L701.2,598.5L699.2,597.7ZM701.2,595.0L704.8,595.0L706.8,595.9L706.8,599.4L703.2,599.4L701.2,598.5ZM703.2,595.9L706.8,595.9L708.8,596.7L708.8,600.2L705.2,600.2L703.2,599.4ZM705.2,596.7L708.8,596.7L710.8,597.5L710.8,601.0L707.2,601.0L705.2,600.2ZM719.5,602.4L723.0,602.4L725.0,603.1L725.0,606.6L721.5,606.6L719.5,605.9ZM721.5,603.1L725.0,603.1L727.0,603.8L727.0,607.3L723.5,607.3L721.5,606.6ZM723.5,603.8L727.0,603.8L729.0,604.6L729.0,608.1L725.5,608.1L723.5,607.3ZM725.5,604.6L729.0,604.6L731.0,605.3L731.0,608.8L727.5,608.8L725.5,608.1ZM727.5,605.3L731.0,605.3L733.0,606.0L733.0,609.5L729.5,609.5L727.5,608.8ZM740.0,609.6L743.5,609.6L745.5,610.2L745.5,613.7L742.0,613.7L740.0,613.1ZM742.0,610.2L745.5,610.2L747.5,610.9L747.5,614.4L744.0,614.4L742.0,613.7ZM744.0,610.9L747.5,610.9L749.5,611.5L749.5,615.0L746.0,615.0L744.0,614.4ZM746.0,611.5L749.5,611.5L751.5,612.1L751.5,615.6L748.0,615.6L746.0,615.0ZM748.0,612.1L751.5,612.1L753.5,612.7L753.5,616.2L750.0,616.2L748.0,615.6ZM750.0,612.7L753.5,612.7L753.8,612.8L753.8,616.3L750.2,616.3L750.0,616.2ZM761.8,616.1L765.2,616.1L767.2,616.7L767.2,620.2L763.8,620.2L761.8,619.6ZM763.8,616.7L767.2,616.7L769.2,617.2L769.2,620.7L765.8,620.7L763.8,620.2ZM765.8,617.2L769.2,617.2L771.2,617.8L771.2,621.3L767.8,621.3L765.8,620.7ZM767.8,617.8L771.2,617.8L773.2,618.3L773.2,621.8L769.8,621.8L767.8,621.3ZM769.8,618.3L773.2,618.3L775.2,618.8L775.2,622.3L771.8,622.3L769.8,621.8ZM771.8,618.8L775.2,618.8L775.8,618.9L775.8,622.4L772.2,622.4L771.8,622.3ZM783.2,621.6L786.8,621.6L788.8,622.1L788.8,625.6L785.2,625.6L783.2,625.1ZM785.2,622.1L788.8,622.1L790.8,622.5L790.8,626.0L787.2,626.0L785.2,625.6ZM787.2,622.5L790.8,622.5L792.8,623.0L792.8,626.5L789.2,626.5L787.2,626.0ZM789.2,623.0L792.8,623.0L794.8,623.4L794.8,626.9L791.2,626.9L789.2,626.5ZM791.2,623.4L794.8,623.4L796.8,623.8L796.8,627.3L793.2,627.3L791.2,626.9ZM793.2,623.8L796.8,623.8L797.2,623.9L797.2,627.4L793.8,627.4L793.2,627.3Z"/>
<path fill="#000" d="M163,20h846v2h-846z M169,20h6v628h-6z M1005,20h6v621h-6z M157,630.9h854v2.1h-854z
M406.1,631h5.8v17h-5.8z M646.4,631h5.8v17h-5.8z M885.1,631h5.8v17h-5.8z M287.8,631h5.6v9.5h-5.6z M526.1,631h5.8v9.5h-5.8z
M157,142.3h12v2.3h-12z M157,385.8h12v2.1h-12z M162.9,264.1h6.2v3.7h-6.2z M162.9,509.4h6.2v3.6h-6.2z"/>
<rect x="731.2" y="97.8" width="205" height="105" fill="#000"/>
<rect x="721.2" y="88" width="206.9" height="108.8" fill="#000"/>
<rect x="723.4" y="90" width="201.1" height="103.4" fill="#fff"/>
<path d="M731,122.1H741.1M754.8,122.1H764.8M774.3,122.1H784.6M798.2,122.1H800.4" stroke="#000" stroke-width="1.9"/>
<rect x="731" y="168.1" width="69.2" height="1.8" fill="#000"/>
<g font-size="38" fill="#000" stroke="#fff" stroke-width="0.7">
<text x="832.3 855.1" y="130.4">90</text>
<text transform="translate(891.3,130.4) scale(0.915,1)" x="0" y="0">C</text>
<text x="821.9 844.3 879.3" y="178.4">30C</text>
</g>
<ellipse cx="882.1" cy="107.5" rx="4.2" ry="3.0" fill="none" stroke="#000" stroke-width="1.5"/>
<ellipse cx="870.1" cy="156.0" rx="4.2" ry="3.1" fill="none" stroke="#000" stroke-width="1.5"/>
<path d="M820.1,104h3.7v26.6h-3.7z" fill="#000"/>
<path d="M814.6,110.2L821.2,105.2" stroke="#000" stroke-width="2" fill="none"/>
<path fill="#000" fill-rule="evenodd" d="M163.60,656.20H174.90L177.00,658.40V679.20L174.90,681.40H163.60L161.50,679.20V658.40ZM168.15,660.03H170.35V663.76H172.30V672.33H170.35V676.11H168.15V672.33H166.20V663.76H168.15ZM183.30,656.20H196.60L198.70,658.40V679.20L196.60,681.40H183.30L181.20,679.20V658.40ZM188.85,660.03H191.05V663.76H193.00V672.33H191.05V676.11H188.85V672.33H186.90V663.76H188.85ZM402.10,656.20H415.40L417.50,658.40V679.20L415.40,681.40H402.10L400.00,679.20V658.40ZM407.65,660.03H409.85V663.76H411.80V672.33H409.85V676.11H407.65V672.33H405.70V663.76H407.65ZM422.00,656.20H435.10L437.20,658.40V679.20L435.10,681.40H422.00L419.90,679.20V658.40ZM427.45,660.03H429.65V663.76H431.60V672.33H429.65V676.11H427.45V672.33H425.50V663.76H427.45ZM643.00,656.20H655.80L657.90,658.40V679.20L655.80,681.40H643.00L640.90,679.20V658.40ZM648.30,660.03H650.50V663.76H652.45V672.33H650.50V676.11H648.30V672.33H646.35V663.76H648.30ZM662.40,656.20H675.70L677.80,658.40V679.20L675.70,681.40H662.40L660.30,679.20V658.40ZM667.95,660.03H670.15V663.76H672.10V672.33H670.15V676.11H667.95V672.33H666.00V663.76H667.95ZM881.30,656.20H894.60L896.70,658.40V679.20L894.60,681.40H881.30L879.20,679.20V658.40ZM886.85,660.03H889.05V663.76H891.00V672.33H889.05V676.11H886.85V672.33H884.90V663.76H886.85ZM903.20,656.20H914.50L916.60,658.40V679.20L914.50,681.40H903.20L901.10,679.20V658.40ZM907.75,660.03H909.95V663.76H911.90V672.33H909.95V676.11H907.75V672.33H905.80V663.76H907.75Z"/>
<path fill="#000" fill-rule="evenodd" d="M102.30,613.30H115.80L117.90,615.60V640.20L115.80,642.50H102.30L100.20,640.20V615.60ZM107.90,618.85H110.20V622.94H112.20V632.86H110.20V636.95H107.90V632.86H105.90V622.94H107.90ZM132.10,613.30H145.30L147.40,615.60V640.20L145.30,642.50H132.10L130.00,640.20V615.60ZM137.55,618.85H139.85V622.94H141.85V632.86H139.85V636.95H137.55V632.86H135.55V622.94H137.55ZM102.30,369.80H115.80L117.90,372.10V395.60L115.80,397.90H102.30L100.20,395.60V372.10ZM107.90,375.14H110.20V379.07H112.20V388.63H110.20V392.56H107.90V388.63H105.90V379.07H107.90ZM102.40,126.80H115.70L117.80,129.10V153.50L115.70,155.80H102.40L100.30,153.50V129.10ZM107.90,132.31H110.20V136.37H112.20V146.23H110.20V150.29H107.90V146.23H105.90V136.37H107.90Z"/>
<path fill="#000" fill-rule="evenodd" d="M382.30,656.20L395.80,656.20L395.80,660.00L388.10,660.00L388.10,662.20L395.80,662.20L395.80,664.00L397.80,664.00L397.80,677.70L395.80,677.70L395.80,681.50L382.30,681.50L382.30,679.50L380.30,679.50L380.30,672.20L386.10,672.20L386.10,674.10L388.10,674.10L388.10,676.10L391.60,676.10L391.60,668.00L388.10,668.00L388.10,669.70L380.30,669.70L380.30,658.20ZM625.20,656.20L634.50,656.20L634.50,658.20L636.00,658.20L636.00,661.70L629.00,661.70L629.00,664.40L634.50,664.40L636.50,666.20L636.50,678.60L634.50,681.50L625.20,681.50L621.20,677.50L621.20,658.20ZM628.30,670.50L630.10,670.50L630.10,672.00L630.90,672.00L630.90,674.00L630.10,674.00L630.10,675.50L628.30,675.50L628.30,674.00L627.50,674.00L627.50,672.00L628.30,672.00ZM859.50,656.20L876.80,656.20L876.80,661.50L875.00,661.50L872.80,667.50L870.60,671.50L870.60,678.60L868.80,679.60L868.80,681.50L863.80,681.50L863.80,670.20L865.70,664.40L869.30,659.80L859.50,659.80ZM132.20,370.25L144.90,370.25L147.00,372.30L147.00,383.30L139.50,390.50L139.50,391.60L147.00,391.60L147.00,396.80L129.30,396.80L129.30,401.20L124.10,401.20L124.10,391.60L129.80,391.60L135.80,379.60L130.10,379.60L130.10,372.30ZM137.80,376.00L139.60,376.00L139.60,377.60L141.00,377.60L141.00,379.60L139.60,379.60L139.60,381.20L137.80,381.20L137.80,379.60L136.40,379.60L136.40,377.60L137.80,377.60ZM149.7,656.2H155.3V668.2H159V675.5H155.3V681.5H149.7V675.5H140V666.6L148.8,656.2ZM137.9,127H143.1V144.5H146.8V149.5H143.1V155.7H137.9V149.5H130.2V137.6L137.2,127Z"/>
<path fill="#000" d="M124,636.9h5.9v9.7h-5.9zM124,391.6h5.9v9.4h-5.9zM124,150.2h5.9v7.6h-5.9z"/>
<g font-weight="bold" font-size="46.5" stroke="#000" stroke-width="2.6">
<g transform="translate(0,750.7) scale(1,0.962)">
<text x="396.75 441.5 468.25 493.77 521.75 533.88 561.15 590.48 618.55 635.92">Wavelength</text>
<text x="694.9 722.2">nm</text>
</g>
<g transform="translate(0,750.7) scale(1,0.9)">
<text x="680.2">[</text><text x="765.95">]</text>
</g>
</g>
<g transform="translate(47.6,524.4) rotate(-90)" font-weight="bold" font-size="48.2" stroke="#000" stroke-width="2.6">
<g transform="scale(1,1.0)">
<text x="36.2 65.97 93.72 125.2 145.15 174.25 203.35 232.18 259.0">bsorbance</text>
<text x="317.55 347.07 360.2 391.77">a.u.</text>
</g>
<g transform="scale(1,1.0)">
<text x="302.38">[</text><text x="403.25">]</text>
</g>
<text transform="scale(1.0,1.06)" x="0.88">A</text>
</g>
</svg>
</body></html>
